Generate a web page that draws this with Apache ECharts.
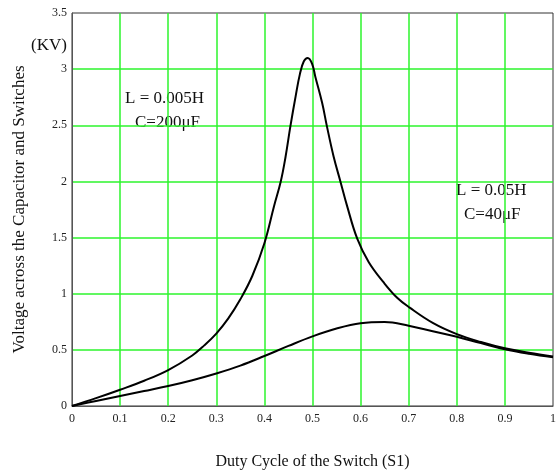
<!DOCTYPE html>
<html>
<head>
<meta charset="utf-8">
<script src="https://cdn.jsdelivr.net/npm/echarts@6/dist/echarts.min.js"></script>
<style>
    html, body { margin: 0; padding: 0; background: #fff; overflow: hidden; }
    #chart { width: 556px; height: 470px; }
</style>
</head>
<body>
<div id="chart"></div>
<script>
    // duty cycle (x) and voltage in KV
    var dutyA = [0, 0.05, 0.1, 0.15, 0.2, 0.25, 0.275, 0.3, 0.325, 0.35, 0.375, 0.4, 0.42, 0.434, 0.444, 0.454, 0.465, 0.474, 0.482, 0.49, 0.499, 0.506, 0.52, 0.53, 0.544, 0.558, 0.572, 0.593, 0.617, 0.648, 0.676, 0.702, 0.75, 0.8, 0.85, 0.9, 0.95, 1.0]
    var voltA = [0, 0.07, 0.145, 0.225, 0.32, 0.45, 0.54, 0.645, 0.78, 0.95, 1.16, 1.45, 1.78, 2.0, 2.22, 2.49, 2.76, 2.96, 3.07, 3.1, 3.05, 2.93, 2.7, 2.49, 2.22, 2.0, 1.78, 1.49, 1.28, 1.1, 0.964, 0.876, 0.74, 0.64, 0.57, 0.514, 0.475, 0.44]

    var dutyB = [0, 0.05, 0.1, 0.15, 0.2, 0.25, 0.3, 0.35, 0.4, 0.45, 0.5, 0.55, 0.6, 0.65, 0.7, 0.75, 0.8, 0.85, 0.9, 0.95, 1.0]
    var voltB = [0, 0.045, 0.089, 0.133, 0.178, 0.23, 0.29, 0.36, 0.445, 0.535, 0.62, 0.69, 0.737, 0.748, 0.715, 0.665, 0.617, 0.56, 0.505, 0.465, 0.434]

    var labelsA = ['L = 0.005H', 'C=200μF']
    var labelsB = ['L = 0.05H', 'C=40μF']

    function pairs(xs, ys) {
        var out = []
        for (var i = 0; i < xs.length; i++) {
            out.push([xs[i], ys[i]])
        }
        return out
    }

    var serif = '"Liberation Serif", "DejaVu Serif", serif'
    var green = '#2cf52c'

    var chart = echarts.init(document.getElementById('chart'))

    var option = {
        animation: false,
        grid: {
            left: 72,
            right: 3,
            top: 13,
            bottom: 64,
            outerBoundsMode: 'none',
            show: true,
            borderColor: '#333',
            borderWidth: 1
        },
        xAxis: {
            type: 'value',
            min: 0,
            max: 1,
            interval: 0.1,
            name: 'Duty Cycle of the Switch (S1)',
            nameLocation: 'middle',
            nameGap: 48,
            nameTextStyle: { color: '#111', fontFamily: serif, fontSize: 16 },
            axisLine: { show: true, lineStyle: { color: '#555', width: 1 } },
            axisTick: { show: false },
            axisLabel: {
                color: '#222',
                fontFamily: serif,
                fontSize: 12,
                margin: 7,
                formatter: function (v) { return String(Math.round(v * 10) / 10) }
            },
            splitLine: {
                show: true,
                showMinLine: false,
                showMaxLine: false,
                lineStyle: { color: green, width: 1.5 }
            }
        },
        yAxis: {
            type: 'value',
            min: 0,
            max: 3.5,
            interval: 0.5,
            name: 'Voltage across the Capacitor and Switches',
            nameLocation: 'middle',
            nameRotate: 90,
            nameGap: 44,
            nameTextStyle: { color: '#111', fontFamily: serif, fontSize: 17 },
            axisLine: { show: true, lineStyle: { color: '#555', width: 1 } },
            axisTick: { show: false },
            axisLabel: { color: '#222', fontFamily: serif, fontSize: 12, margin: 5 },
            splitLine: {
                show: true,
                showMinLine: false,
                showMaxLine: false,
                lineStyle: { color: green, width: 1.5 }
            }
        },
        graphic: [
            { type: 'text', left: 31, top: 37, style: { text: '(KV)', font: '17px ' + serif, fill: '#111' } },
            { type: 'text', left: 125, top: 90, style: { text: labelsA[0], font: '17px ' + serif, fill: '#111' } },
            { type: 'text', left: 135, top: 114, style: { text: labelsA[1], font: '17px ' + serif, fill: '#111' } },
            { type: 'text', left: 456, top: 182, style: { text: labelsB[0], font: '17px ' + serif, fill: '#111' } },
            { type: 'text', left: 464, top: 206, style: { text: labelsB[1], font: '17px ' + serif, fill: '#111' } }
        ],
        series: [{
            type: 'line',
            data: pairs(dutyA, voltA),
            smooth: 0.4,
            showSymbol: false,
            lineStyle: { color: '#000', width: 2 }
        }, {
            type: 'line',
            data: pairs(dutyB, voltB),
            smooth: 0.4,
            showSymbol: false,
            lineStyle: { color: '#000', width: 2 }
        }]
    }

    chart.setOption(option)
</script>
</body>
</html>
